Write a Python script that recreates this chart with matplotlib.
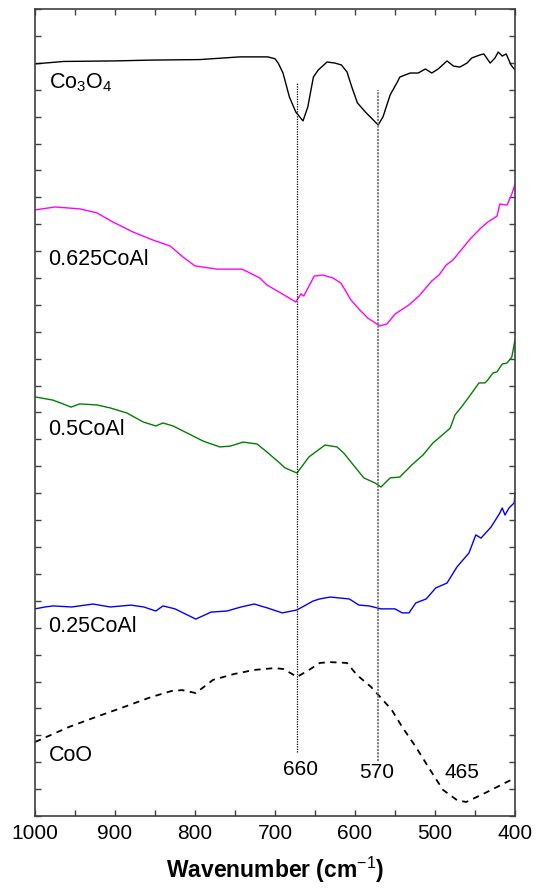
import matplotlib
matplotlib.use("Agg")
import matplotlib.pyplot as plt
from matplotlib.ticker import MultipleLocator

plt.rcParams['font.family'] = ['Liberation Sans', 'DejaVu Sans']
plt.rcParams['mathtext.fontset'] = 'custom'
plt.rcParams['mathtext.rm'] = 'Liberation Sans'
plt.rcParams['mathtext.it'] = 'Liberation Sans'
plt.rcParams['mathtext.bf'] = 'Liberation Sans:bold'

# ---- data (wavenumber in cm^-1, transmittance in arbitrary units, offset) ----
co3o4_wn = [1000, 964, 900, 856, 794, 744, 709, 700, 696, 690, 682, 674, 665, 659, 652, 646,
            635, 625, 617, 610, 604, 597, 587, 577, 571, 565, 556, 547, 544, 531,
            521, 512, 504, 496, 485, 477, 469, 460, 454, 444, 439, 431, 425, 421,
            416, 411, 405, 400]
co3o4_t = [27.96, 28.05, 28.07, 28.10, 28.12, 28.22, 28.22, 28.15, 27.99, 27.62, 26.73, 26.17,
           25.84, 26.36, 27.47, 27.73, 28.03, 27.99, 27.92, 27.66, 27.10, 26.51,
           26.17, 25.87, 25.69, 25.99, 26.81, 27.29, 27.47, 27.62, 27.62, 27.77,
           27.62, 27.77, 28.07, 27.88, 27.84, 27.99, 28.18, 28.29, 28.33, 27.99,
           28.18, 28.40, 28.25, 28.33, 27.92, 27.73]

coal0625_wn = [1000, 975, 944, 922.5, 902.5, 877.5, 852.5, 831, 815, 800, 772.5,
               741, 719, 710, 691, 674, 667.5, 664, 651, 640, 627.5, 617.5, 605,
               594, 584, 569, 560, 550, 532.5, 520, 504, 495, 486, 477.5, 456, 444,
               434, 422.5, 419, 410, 404, 400]
coal0625_t = [22.53, 22.64, 22.57, 22.42, 22.08, 21.71, 21.41, 21.19, 20.78, 20.45,
              20.33, 20.33, 20.00, 19.74, 19.41, 19.11, 19.41, 19.33, 20.07, 20.11,
              20.00, 19.81, 19.18, 18.81, 18.51, 18.22, 18.29, 18.66, 19.00, 19.33,
              19.89, 20.11, 20.48, 20.67, 21.45, 21.82, 22.08, 22.30, 22.75, 22.71,
              23.12, 23.49]

coal05_wn = [1000, 977.5, 965, 955, 944, 922.5, 906, 885, 865, 849, 840, 827.5, 810,
             790, 769, 756, 740, 722.5, 710, 694, 687.5, 672.5, 657.5, 637.5, 622.5,
             614, 604, 589, 575, 567.5, 556, 544, 529, 515, 502.5, 491, 481, 475,
             466, 457.5, 445, 437.5, 434, 427.5, 422.5, 416, 410, 404, 400]
coal05_t = [15.58, 15.46, 15.32, 15.20, 15.32, 15.28, 15.17, 14.98, 14.65, 14.50,
            14.61, 14.50, 14.24, 13.94, 13.72, 13.75, 13.90, 13.83, 13.53, 13.12,
            12.94, 12.75, 13.35, 13.79, 13.72, 13.49, 13.12, 12.57, 12.38, 12.23,
            12.57, 12.60, 13.05, 13.42, 13.87, 14.16, 14.42, 14.91, 15.24, 15.58,
            16.10, 16.10, 16.21, 16.47, 16.51, 16.80, 16.84, 17.06, 17.70]

coal025_wn = [1000, 987.5, 977.5, 954, 927.5, 906, 880, 864, 849, 840, 825, 799, 780,
              760, 742.5, 726, 709, 691, 672.5, 652.5, 644, 631, 607.5, 605, 595,
              582.5, 567.5, 550, 541, 532.5, 524, 511, 499, 485, 472.5, 457.5, 449,
              442.5, 430, 419, 416, 412.5, 407.5, 401, 400]
coal025_t = [7.70, 7.77, 7.81, 7.77, 7.88, 7.77, 7.84, 7.77, 7.62, 7.81, 7.70, 7.32,
             7.58, 7.62, 7.77, 7.88, 7.73, 7.55, 7.66, 7.99, 8.07, 8.14, 8.07, 8.03,
             7.84, 7.81, 7.70, 7.70, 7.55, 7.55, 7.92, 8.07, 8.48, 8.66, 9.26, 9.78,
             10.45, 10.33, 10.74, 11.26, 11.45, 11.19, 11.45, 11.64, 12.01]

coo_wn = [1000, 957.5, 924, 889, 855, 829, 816, 799, 777.5, 751, 726, 700, 689, 672.5,
          657.5, 644, 631, 610, 597.5, 580, 567.5, 554, 541, 524, 506, 490, 472.5,
          461, 442.5, 425, 412.5, 400]
coo_t = [2.75, 3.31, 3.68, 4.05, 4.42, 4.65, 4.68, 4.57, 5.06, 5.28, 5.43, 5.50, 5.46,
         5.17, 5.43, 5.69, 5.72, 5.69, 5.24, 4.80, 4.39, 3.94, 3.31, 2.57, 1.71, 0.97,
         0.59, 0.52, 0.78, 1.04, 1.23, 1.41]

sample_labels = ['Co$_3$O$_4$', '0.625CoAl', '0.5CoAl', '0.25CoAl', 'CoO']
label_y = [27.25, 20.67, 14.35, 7.05, 2.25]

peak_lines_wn = [672.5, 571]
peak_lines_top = [27.29, 26.99]
peak_lines_bottom = [2.38, 2.04]
peak_texts = ['660', '570', '465']
peak_text_wn = [668.5, 573.5, 466]
peak_text_y = [1.72, 1.60, 1.60]

# ---- figure ----
fig = plt.figure(figsize=(5.36, 8.88), dpi=100)
ax = fig.add_axes([35/536, 72/888, 480/536, 807/888])

ax.plot(co3o4_wn, co3o4_t, color='black', lw=1.0)
ax.plot(coal0625_wn, coal0625_t, color='#ff00ff', lw=1.0)
ax.plot(coal05_wn, coal05_t, color='#008000', lw=1.0)
ax.plot(coal025_wn, coal025_t, color='#0000ff', lw=1.0)
ax.plot(coo_wn, coo_t, color='black', lw=1.3, linestyle=(0, (3.5, 3)))

ax.vlines(peak_lines_wn[0], peak_lines_bottom[0], peak_lines_top[0],
          colors='black', linestyles=(0, (1, 1)), lw=0.9)
ax.vlines(peak_lines_wn[1], peak_lines_bottom[1], peak_lines_top[1],
          colors='#808080', linestyles=(0, (1, 0.6)), lw=1.5)

for lab, yy in zip(sample_labels, label_y):
    ax.text(983, yy, lab, fontsize=15.5, ha='left', va='center', color='black')

for t, xw, yy in zip(peak_texts, peak_text_wn, peak_text_y):
    ax.text(xw, yy, t, fontsize=15, ha='center', va='center', color='black')

ax.set_xlim(1000, 400)
ax.set_ylim(0, 30)
ax.xaxis.set_major_locator(MultipleLocator(100))
ax.xaxis.set_minor_locator(MultipleLocator(50))
ax.yaxis.set_major_locator(MultipleLocator(1))
ax.set_yticklabels([])
ax.tick_params(axis='both', which='both', direction='in', top=True, right=True,
               length=4, width=1.0, color='#404040')
ax.tick_params(axis='x', labelsize=15, pad=6)
ax.tick_params(axis='y', left=True, labelleft=False)
for sp in ax.spines.values():
    sp.set_color('#404040')
    sp.set_linewidth(1.2)

fig.text(275/536, 1 - 870/888, 'Wavenumber (cm$^{-1}$)', fontsize=16.5,
         fontweight='bold', ha='center', va='center')

fig.savefig('out.png', dpi=100)
